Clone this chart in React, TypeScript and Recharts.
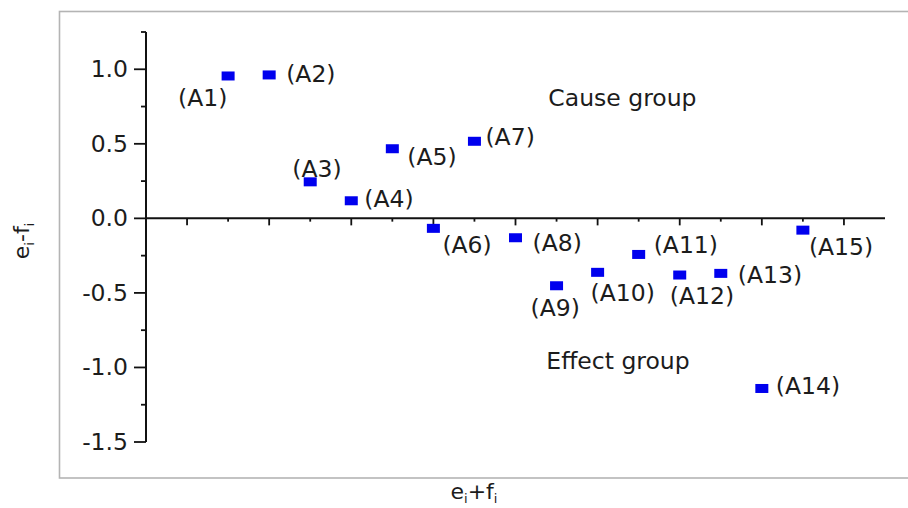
import {
  ScatterChart,
  Scatter,
  XAxis,
  YAxis,
  ReferenceLine,
  ReferenceDot
} from "recharts";

// factors and their (e_i + f_i, e_i - f_i) coordinates
const factorNames = [
  "A1", "A2", "A3", "A4", "A5", "A6", "A7", "A8",
  "A9", "A10", "A11", "A12", "A13", "A14", "A15"
];
const sumValues = [2, 3, 4, 5, 6, 7, 8, 9, 10, 11, 12, 13, 14, 15, 16];
const diffValues = [
  0.955, 0.962, 0.245, 0.118, 0.467, -0.067, 0.517, -0.13,
  -0.452, -0.362, -0.242, -0.38, -0.369, -1.141, -0.079
];

const yMajorTicks = [-1.5, -1, -0.5, 0, 0.5, 1];
const yMinorTicks = [-1.25, -0.75, -0.25, 0.25, 0.75, 1.25];
const xMajorTicks = [1, 3, 5, 7, 9, 11, 13, 15, 17];
const xMinorTicks = [2, 4, 6, 8, 10, 12, 14, 16];

const groupNames = ["Cause group", "Effect group"];
const groupX = [9.8, 9.75];
const groupY = [0.81, -0.96];

// where each "(Ai)" label sits relative to its marker
const labelOffsets: Record<string, [number, number]> = {
  A1: [-50, 22],
  A2: [17, -1],
  A3: [-18, -13],
  A4: [13, -2],
  A5: [15, 8],
  A6: [9, 17],
  A7: [11, -4],
  A8: [17, 5],
  A9: [-26, 22],
  A10: [-7, 21],
  A11: [15, -9],
  A12: [-10, 21],
  A13: [17, 2],
  A14: [14, -2],
  A15: [6, 17]
};

const FONT = "'DejaVu Sans', sans-serif";
const TEXT = "#1c1c1c";

const data = factorNames.map((name, i) => ({
  name,
  x: sumValues[i],
  y: diffValues[i]
}));

function Marker(props: any) {
  const { cx, cy, payload } = props;
  const [dx, dy] = labelOffsets[payload.name] || [10, 0];
  return (
    <g>
      <rect x={cx - 6.5} y={cy - 4.5} width={13} height={9} fill="#0000ee" />
      <text
        x={cx + dx}
        y={cy + dy}
        fontFamily={FONT}
        fontSize={23.5}
        fill={TEXT}
        dominantBaseline="central"
      >
        ({payload.name})
      </text>
    </g>
  );
}

function YTick(props: any) {
  const { x, y, payload } = props;
  const major = yMajorTicks.includes(payload.value);
  return (
    <g>
      <line
        x1={x - (major ? 12 : 5)}
        x2={x}
        y1={y}
        y2={y}
        stroke="#111"
        strokeWidth={1.8}
      />
      {major && (
        <text
          x={x - 18}
          y={y}
          textAnchor="end"
          dominantBaseline="central"
          fontFamily={FONT}
          fontSize={23.5}
          fill={TEXT}
        >
          {payload.value.toFixed(1)}
        </text>
      )}
    </g>
  );
}

function GroupLabel(text: string) {
  return (props: any) => (
    <text
      x={props.cx}
      y={props.cy}
      dominantBaseline="central"
      fontFamily={FONT}
      fontSize={23.5}
      fill={TEXT}
    >
      {text}
    </text>
  );
}

export default function App() {
  const yTicks = [...yMajorTicks, ...yMinorTicks].sort((a, b) => a - b);

  return (
    <div
      style={{
        position: "absolute",
        left: 0,
        top: 0,
        width: 908,
        height: 508,
        background: "#fff",
        overflow: "hidden"
      }}
    >
      <svg
        width={908}
        height={508}
        style={{ position: "absolute", left: 0, top: 0 }}
      >
        <rect
          x={59.5}
          y={11.5}
          width={870}
          height={466.5}
          fill="none"
          stroke="#b4b4b4"
          strokeWidth={1.6}
        />
        <text
          transform="translate(29,241) rotate(-90)"
          textAnchor="middle"
          fontFamily={FONT}
          fontSize={22}
          fill={TEXT}
        >
          e<tspan fontSize={13} dy={5}>i</tspan>
          <tspan dy={-5}>-f</tspan>
          <tspan fontSize={13} dy={5}>i</tspan>
        </text>
        <text
          x={474}
          y={499}
          textAnchor="middle"
          fontFamily={FONT}
          fontSize={22}
          fill={TEXT}
        >
          e<tspan fontSize={13} dy={4}>i</tspan>
          <tspan dy={-4}>+f</tspan>
          <tspan fontSize={13} dy={4}>i</tspan>
        </text>
      </svg>

      <div style={{ position: "absolute", left: 0, top: 0 }}>
        <ScatterChart
          width={908}
          height={508}
          margin={{ top: 32, right: 23, bottom: 66, left: 0 }}
        >
          <XAxis type="number" dataKey="x" domain={[0, 18]} hide />
          <YAxis
            type="number"
            dataKey="y"
            domain={[-1.5, 1.25]}
            ticks={yTicks}
            interval={0}
            allowDataOverflow
            width={146}
            tickSize={0}
            tickMargin={0}
            tickLine={false}
            axisLine={{ stroke: "#111", strokeWidth: 2 }}
            tick={<YTick />}
          />
          <ReferenceLine y={0} stroke="#111" strokeWidth={2} />
          {xMajorTicks.map((t) => (
            <ReferenceLine
              key={"M" + t}
              segment={[
                { x: t, y: 0 },
                { x: t, y: -0.047 }
              ]}
              stroke="#111"
              strokeWidth={1.8}
            />
          ))}
          {xMinorTicks.map((t) => (
            <ReferenceLine
              key={"m" + t}
              segment={[
                { x: t, y: 0 },
                { x: t, y: -0.022 }
              ]}
              stroke="#111"
              strokeWidth={1.8}
            />
          ))}
          {groupNames.map((g, i) => (
            <ReferenceDot
              key={g}
              x={groupX[i]}
              y={groupY[i]}
              r={0}
              shape={GroupLabel(g)}
            />
          ))}
          <Scatter
            data={data}
            shape={<Marker />}
            isAnimationActive={false}
          />
        </ScatterChart>
      </div>
    </div>
  );
}
